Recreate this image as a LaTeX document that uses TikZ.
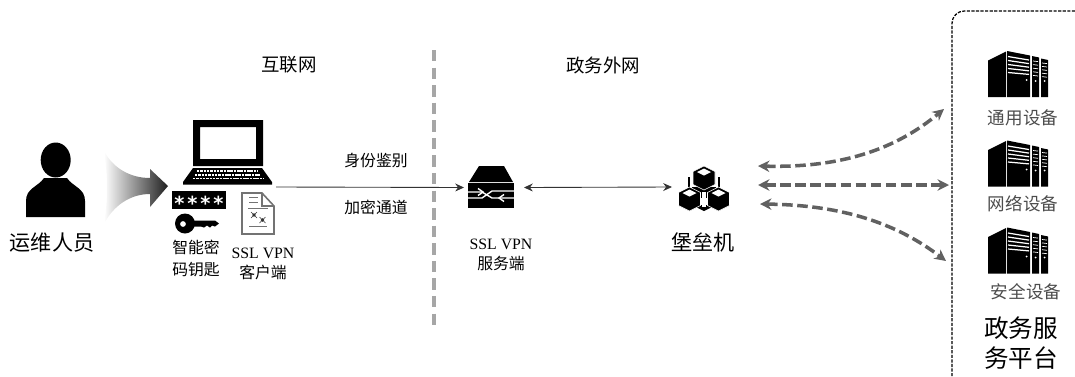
\documentclass[tikz,border=0pt]{standalone}
\usepackage{fontspec}
\setmainfont{Liberation Serif}
\newfontfamily\cjk{Noto Sans CJK SC}
\newfontfamily\pinfont[LetterSpace=15]{DejaVu Sans Bold}
\usetikzlibrary{arrows.meta}
\tikzset{
  rack/.pic={
    \fill (0,9.5) -- (18,0.5) -- (18,46) -- (0,46) -- cycle;
    \fill (19,0) -- (42,4.5) -- (42,46) -- (19,46) -- cycle;
    \fill (44,5) -- (51,6.5) -- (51,46) -- (44,46) -- cycle;
    \fill (53,7.5) -- (60,9) -- (60,46) -- (53,46) -- cycle;
    \foreach \n in {0,...,4} {
      \draw[white,line width=0.7pt] (20,{5.5+4*\n}) -- (41,{9+3.6*\n});
    }
    \foreach \n in {0,...,4} {
      \draw[white,line width=0.4pt] (45,{10+3.6*\n}) -- (50,{10.6+3.6*\n});
      \draw[white,line width=0.4pt] (54,{12+3.4*\n}) -- (59,{12.6+3.4*\n});
    }
    \fill[white] (38.5,29) circle (1) (47.5,30) circle (1) (56.5,30) circle (1);
  },
  cube/.pic={
    \fill[draw=white,line width=0.3pt] (0,-12) -- (11,-6.5) -- (11,6.5) -- (0,12) -- (-11,6.5) -- (-11,-6.5) -- cycle;
    \fill[white] (0,-9.5) -- (7,-6) -- (0,-2.5) -- (-7,-6) -- cycle;
  }
}
\begin{document}
\begin{tikzpicture}[x=0.02cm,y=-0.02cm,
    iconbox/.style 2 args={inner sep=0pt,outer sep=0pt,minimum width=#1*0.02cm,minimum height=#2*0.02cm},
    cn/.style={font=\cjk\fontsize{9}{11}\selectfont,inner sep=0pt,align=center},
    cnzone/.style={font=\cjk\fontsize{10.5}{12}\selectfont,inner sep=0pt},
    cnbig/.style={font=\cjk\fontsize{12}{14}\selectfont,inner sep=0pt,align=center},
    en/.style={font=\fontsize{9}{11}\selectfont,inner sep=0pt},
    devlabel/.style={font=\cjk\fontsize{10}{12}\selectfont,inner sep=0pt,text=black!70},
    thinline/.style={black!80,line width=0.5pt},
    fanarrow/.style={black!62,line width=2pt,dash pattern=on 6pt off 2.6pt,{Stealth[length=6.5pt,width=6.5pt]}-{Stealth[length=6.5pt,width=6.5pt]}}]

  \useasboundingbox (0,0) rectangle (1075,376);

  \node[iconbox={60}{75}] (person) at (55.5,180) {};
  \fill (55.7,160) ellipse (15 and 17.5);
  \fill (26,217) -- (26,201) .. controls (26,188) and (38,187) .. (44,178) -- (67,178)
        .. controls (73,187) and (85,188) .. (85,201) -- (85,217) -- cycle;
  \node[cnbig] (personlabel) at (52,243) {运维人员};

  \shade[left color=white,right color=black!88]
    (104,151) .. controls (113,168) and (130,178) .. (150,178) -- (150,169) -- (168,186)
    -- (150,207) -- (150,194) .. controls (130,194) and (113,206) .. (104,224)
    .. controls (108,200) and (108,176) .. (104,151) -- cycle;

  \node[iconbox={93}{67}] (laptop) at (229.5,153.5) {};
  \fill[even odd rule] (193,120) rectangle (263,166) (200,127) rectangle (256,159);
  \fill (193,168) -- (262,168) -- (272,182) -- (272,184.5) -- (183,184.5) -- (183,182) -- cycle;
  \draw[white,line width=0.8pt,dash pattern=on 1.4pt off 0.5pt] (197,171) -- (258,171);
  \draw[white,line width=0.8pt,dash pattern=on 1.4pt off 0.5pt] (195,175) -- (260,175);
  \draw[white,line width=0.8pt,dash pattern=on 1.4pt off 0.5pt] (193,178.5) -- (264,178.5);

  \fill (172,191) rectangle (226,209);
  \node[text=white,inner sep=0pt,anchor=base,font=\pinfont\fontsize{11}{11}\selectfont] (pin) at (199,210) {****};

  \fill[even odd rule] (185,223.5) circle (10) (183,224) circle (3);
  \fill (193,220.5) -- (215,220.5) -- (219,223.5) -- (215,226.5) -- (212,225.5) -- (210,227.5) -- (207,225.5) -- (204,227.5) -- (201,226.5) -- (193,226.5) -- cycle;
  \node[cn] (keylabel) at (196,258.5) {智能密\\[1.5pt]码钥匙};

  \draw[black!55,line width=0.9pt] (242,193) -- (262,193) -- (274,206) -- (274,234) -- (242,234) -- cycle;
  \draw[black!55,line width=0.7pt] (262,193) -- (262,206) -- (274,206);
  \draw[black!55,line width=0.8pt] (249,197.5) -- (258,197.5) (249,202.5) -- (258,202.5) (248,208.5) -- (268,208.5) (249,226.5) -- (267,226.5);
  \foreach \cx/\cy in {254/215,262.5/220} {
    \fill[black!80] (\cx,\cy) circle (1.8);
    \draw[black!80,line width=0.3pt] (\cx-3,\cy-3) -- (\cx+3,\cy+3) (\cx-3,\cy+3) -- (\cx+3,\cy-3);
  }
  \node[en] (clientlabel) at (263,253) {SSL VPN};
  \node[cn] (clienttext) at (263,272) {客户端};

  \node[cn] (authlabel) at (376,161) {身份鉴别};
  \node[cn] (tunnellabel) at (376,207) {加密通道};
  \node[cnzone] (netleft) at (289,65) {互联网};
  \node[cnzone] (netright) at (603,65) {政务外网};
  \node[iconbox={2}{280}] (border) at (434,190) {};
  \draw[black!35,line width=2pt,dash pattern=on 6.5pt off 3.5pt] (border.north) -- (border.south);

  \node[iconbox={60}{42}] (vpn) at (494,187.5) {};
  \fill (479,166) -- (504,166) -- (513,182) -- (469,182) -- cycle;
  \fill (468,183) rectangle (514,208);
  \draw[white,line width=0.8pt] (466,198) -- (482,198) -- (492,191) -- (500,191) -- (516,191);
  \draw[white,line width=0.8pt] (466,192) -- (482,192) -- (492,198) -- (500,198) -- (516,198);
  \draw[white,line width=0.8pt] (478,188.5) -- (483,192) -- (478,195.5);
  \draw[white,line width=0.8pt] (504,194.5) -- (499,198) -- (504,201.5);
  \node[en] (serverlabel) at (501,244) {SSL VPN};
  \node[cn] (servertext) at (501,263) {服务端};

  \node[iconbox={64}{50}] (bastion) at (704,187) {};
  \draw[line width=1.6pt] (689,177) -- (689,190) (719,177) -- (719,190);
  \fill (692,187) -- (716,187) -- (716,198) -- (692,198) -- cycle;
  \fill (704,211) -- (692,205) -- (716,205) -- cycle;
  \pic at (704,178) {cube};
  \pic at (689.5,199) {cube};
  \pic at (718.5,199) {cube};
  \fill[white] (702,192) rectangle (706,207);
  \node[cnbig] (bastionlabel) at (703,242) {堡垒机};

  \draw[thinline,-{Stealth[length=5pt,width=4.5pt]}] (laptop.south east) -- (vpn.west);
  \draw[thinline,{Stealth[length=5pt,width=4.5pt]}-{Stealth[length=5pt,width=4.5pt]}] (vpn.east) -- (bastion.west);

  \coordinate (fanA) at (758,166);
  \coordinate (fanB) at (758,185);
  \coordinate (fanC) at (760,204);
  \coordinate (portA) at (944,109);
  \coordinate (portB) at (949,185);
  \coordinate (portC) at (946,261);
  \draw[fanarrow] (fanA) .. controls (840,168) and (895,150) .. (portA);
  \draw[fanarrow] (fanB) -- (portB);
  \draw[fanarrow] (fanC) .. controls (840,205) and (895,222) .. (portC);

  \draw[black,line width=0.7pt,dash pattern=on 1.8pt off 0.8pt,rounded corners=7pt] (1075,11) -- (952,11) -- (952,376);

  \pic at (988,51) {rack};
  \pic at (988,140.5) {rack};
  \pic at (988,227.5) {rack};
  \node[devlabel] (racklabelA) at (1023,118) {通用设备};
  \node[devlabel] (racklabelB) at (1023,204) {网络设备};
  \node[devlabel] (racklabelC) at (1026,292) {安全设备};
  \node[font=\cjk\fontsize{14}{17}\selectfont,inner sep=0pt,align=center] (platform) at (1021,343) {政务服\\务平台};

\end{tikzpicture}
\end{document}
